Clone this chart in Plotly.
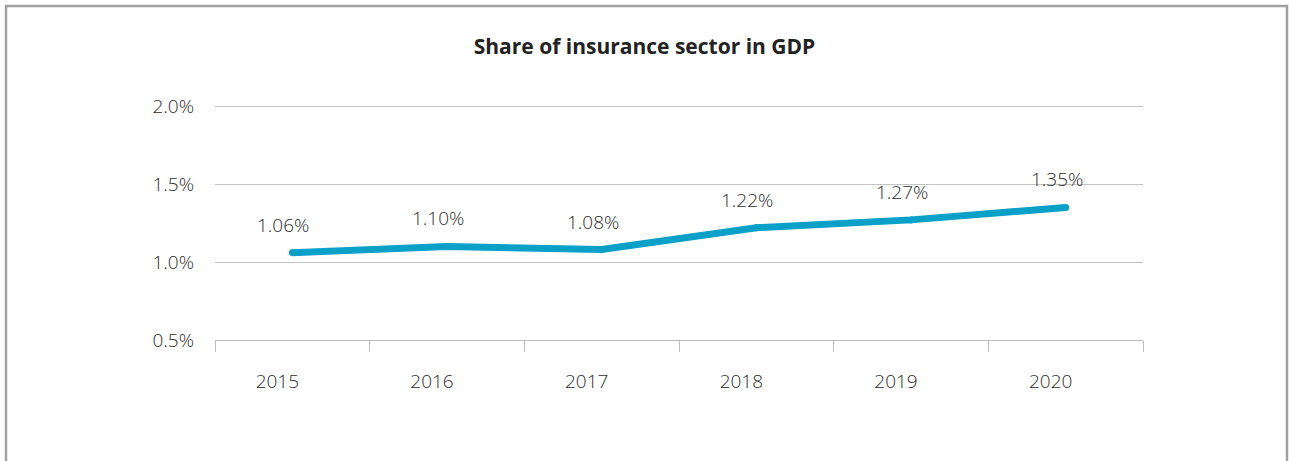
import plotly.graph_objects as go

years = ["2015", "2016", "2017", "2018", "2019", "2020"]
share = [1.06, 1.10, 1.08, 1.22, 1.27, 1.35]
labels = ["1.06%", "1.10%", "1.08%", "1.22%", "1.27%", "1.35%"]
y_ticks = [0.5, 1.0, 1.5, 2.0]
y_tick_text = ["0.5%", "1.0%", "1.5%", "2.0%"]

LINE_COLOR = "#0aa0c8"
TEXT_COLOR = "#2e2e2e"
FONT = "Open Sans"
LABEL_SIZE = 19

fig = go.Figure()
fig.add_trace(go.Scatter(
    x=years, y=share, mode="lines+markers",
    line=dict(color=LINE_COLOR, width=7),
    marker=dict(color=LINE_COLOR, size=7, line=dict(width=0)),
    hoverinfo="skip", showlegend=False,
))

for i, (yv, t) in enumerate(zip(share, labels)):
    fig.add_annotation(x=i, y=yv, xref="x", yref="y", text=t, showarrow=False,
                       xshift=-9, yshift=28, yanchor="middle",
                       font=dict(family=FONT, size=LABEL_SIZE, color=TEXT_COLOR, weight=300))

L, R, T, B = 215, 1143, 102, 340
W, H = 1289, 461
pw, ph = R - L, B - T
y_top = 0.5 + 1.5 * ph / (340 - 106)

fig.add_shape(type="rect", xref="paper", yref="paper",
              x0=(6 - L) / pw, x1=(1287 - L) / pw,
              y0=(B - 480) / ph, y1=(B - 6) / ph,
              line=dict(color="#a0a0a0", width=2.5), fillcolor="rgba(0,0,0,0)",
              layer="below")

fig.update_layout(
    width=W, height=H,
    margin=dict(l=L, r=W - R, t=T, b=H - B),
    paper_bgcolor="white", plot_bgcolor="white",
    title=dict(text="<b>Share of insurance sector in GDP</b>",
               x=0.5, xref="container", xanchor="center",
               y=1 - 47 / H, yref="container", yanchor="middle",
               font=dict(family=FONT, size=21, color="#222222")),
    font=dict(family=FONT, color=TEXT_COLOR),
)

fig.update_xaxes(
    type="category", tickson="boundaries",
    ticks="outside", ticklen=11, tickcolor="#bdbdbd", tickwidth=1.2,
    showgrid=False, showline=True, linecolor="#bdbdbd", linewidth=1.2,
    tickfont=dict(family=FONT, size=LABEL_SIZE, color=TEXT_COLOR, weight=300),
    ticklabelshift=-15, ticklabelstandoff=24,
    range=[-0.5, 5.5], fixedrange=True,
)
fig.update_yaxes(
    range=[0.5, y_top], tickvals=y_ticks, ticktext=y_tick_text,
    showgrid=True, gridcolor="#c4c4c4", gridwidth=1.4,
    zeroline=False, showline=False, ticks="",
    tickfont=dict(family=FONT, size=LABEL_SIZE, color=TEXT_COLOR, weight=300),
    ticklabelstandoff=20, fixedrange=True,
)

fig.write_html("out.html")
